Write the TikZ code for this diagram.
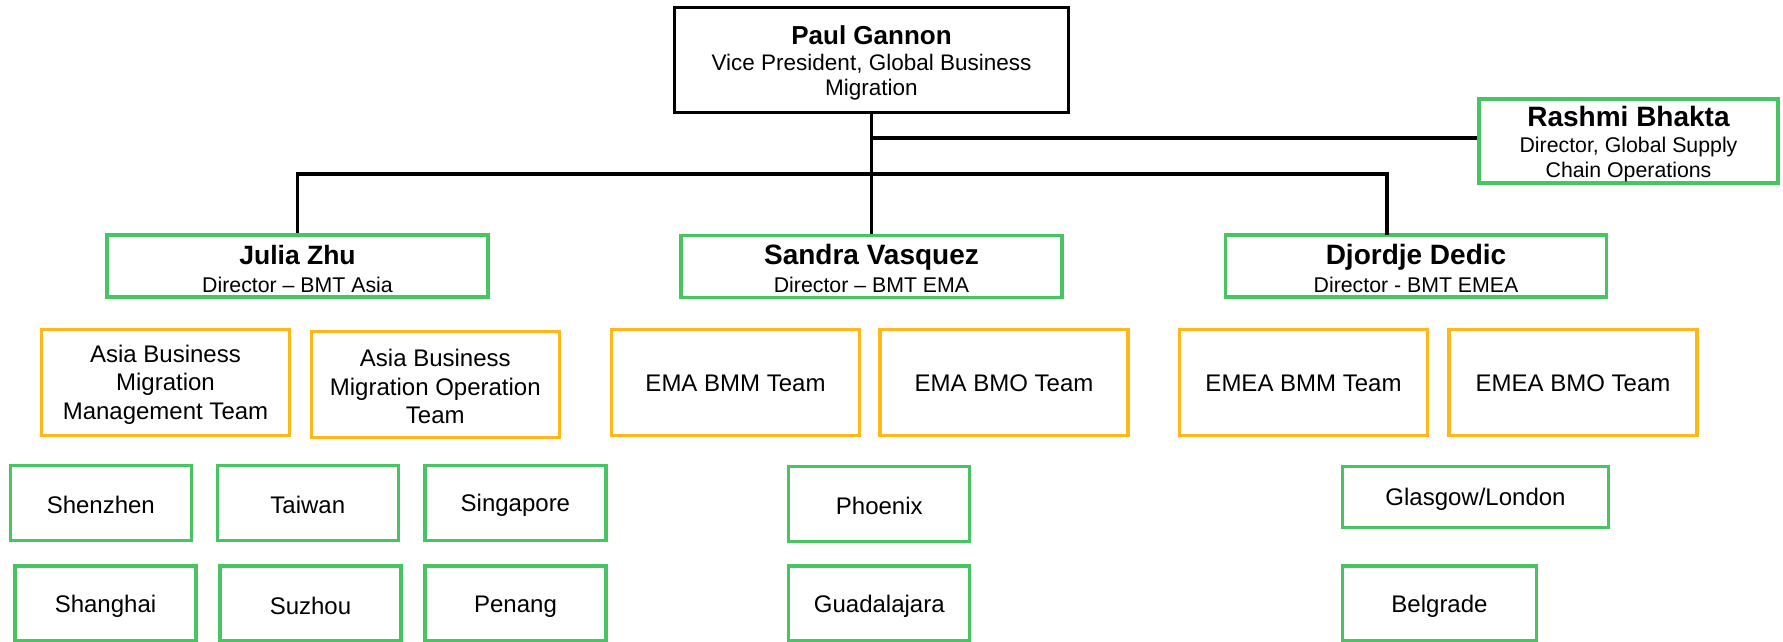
\documentclass[tikz,border=0pt]{standalone}
\usepackage{fontspec}
\setmainfont{Liberation Sans}
\definecolor{ogreen}{RGB}{72,196,98}
\definecolor{oorange}{RGB}{255,184,28}
\tikzset{
  base/.style={line width=3.3pt, inner sep=0pt, align=center, fill=white},
  blackbox/.style={base, draw=black},
  dirbox/.style={base, draw=ogreen, minimum width=381, minimum height=62},
  teambox/.style={base, draw=oorange, minimum width=248, minimum height=106, font=\fontsize{24}{28.5}\selectfont},
  sitebox/.style={base, draw=ogreen, minimum width=181, minimum height=75, font=\fontsize{24}{28.5}\selectfont},
  conn/.style={line width=3.3pt, draw=black},
}
\newcommand{\namefont}[1]{\fontsize{#1}{#1}\selectfont\bfseries}
% zero-width strut that lowers the text block by #1 pt
\newcommand{\dn}[1]{\rule{0pt}{\dimexpr\fontcharht\font`\h+#1pt+#1pt\relax}}
\begin{document}
\begin{tikzpicture}[x=1pt,y=-1pt]
\useasboundingbox (0,0) rectangle (1783,641);
\clip (0,0) rectangle (1783,641);
% top
\node[blackbox, minimum width=394, minimum height=105, font=\fontsize{22.5}{25.5}\selectfont] (paul) at (871.5,60)
  {{\namefont{26}\dn{3.5}Paul Gannon}\\[0pt]Vice President, Global Business\\Migration};
\node[base, draw=ogreen, minimum width=299, minimum height=84, font=\fontsize{21.3}{25.3}\selectfont] (rashmi) at (1628.5,141)
  {{\namefont{28}\dn{3.5}Rashmi Bhakta}\\[1pt]Director, Global Supply\\Chain Operations};
% directors
\node[dirbox, font=\fontsize{21.3}{28}\selectfont] (julia) at (297.5,266)
  {{\namefont{26.5}\dn{3.5}Julia Zhu}\\Director – BMT Asia};
\node[dirbox, font=\fontsize{21.3}{28}\selectfont] (sandra) at (871.5,266.5)
  {{\namefont{28}\dn{2.5}Sandra Vasquez}\\Director – BMT EMA};
\node[dirbox, font=\fontsize{21.3}{28}\selectfont] (djordje) at (1416,266)
  {{\namefont{28}\dn{2.5}Djordje Dedic}\\Director - BMT EMEA};
% teams
\node[teambox] (abmm) at (165.5,382.5) {\dn{2.5}Asia Business\\Migration\\Management Team};
\node[teambox] (abmo) at (435.3,384.5) {\dn{2.5}Asia Business\\Migration Operation\\Team};
\node[teambox] (emabmm) at (735.5,382.5) {\dn{1}EMA BMM Team};
\node[teambox] (emabmo) at (1004,382.5) {\dn{1}EMA BMO Team};
\node[teambox] (emeabmm) at (1303.5,382.5) {\dn{1}EMEA BMM Team};
\node[teambox] (emeabmo) at (1573,382.5) {\dn{1}EMEA BMO Team};
% sites row 1
\node[sitebox] (shenzhen) at (100.8,503) {\dn{2.5}Shenzhen};
\node[sitebox] (taiwan) at (307.8,503) {\dn{2.5}Taiwan};
\node[sitebox] (singapore) at (515.4,503) {\dn{2.5}Singapore};
\node[sitebox] (phoenix) at (879.3,504) {\dn{2.5}Phoenix};
\node[sitebox, minimum width=266, minimum height=61] (glasgow) at (1475.5,497) {\dn{3}Glasgow/London};
% sites row 2
\node[sitebox] (shanghai) at (105.5,603.5) {\dn{3}Shanghai};
\node[sitebox] (suzhou) at (310.5,603.5) {\dn{3}Suzhou};
\node[sitebox] (penang) at (515.5,603.5) {\dn{3}Penang};
\node[sitebox] (guadalajara) at (879.3,603.5) {\dn{3}Guadalajara};
\node[sitebox, minimum width=194] (belgrade) at (1439.5,603.5) {\dn{3}Belgrade};
% connectors
\coordinate (rj) at (871.5,138);
\coordinate (bus) at (871.5,174);
\coordinate (djtop) at (1387,235);
\draw[conn] (paul.south) -- (sandra.north);
\draw[conn] (rj) -- (rj -| rashmi.west);
\draw[conn] (julia.north) |- (bus) -| (djtop);
\end{tikzpicture}
\end{document}
